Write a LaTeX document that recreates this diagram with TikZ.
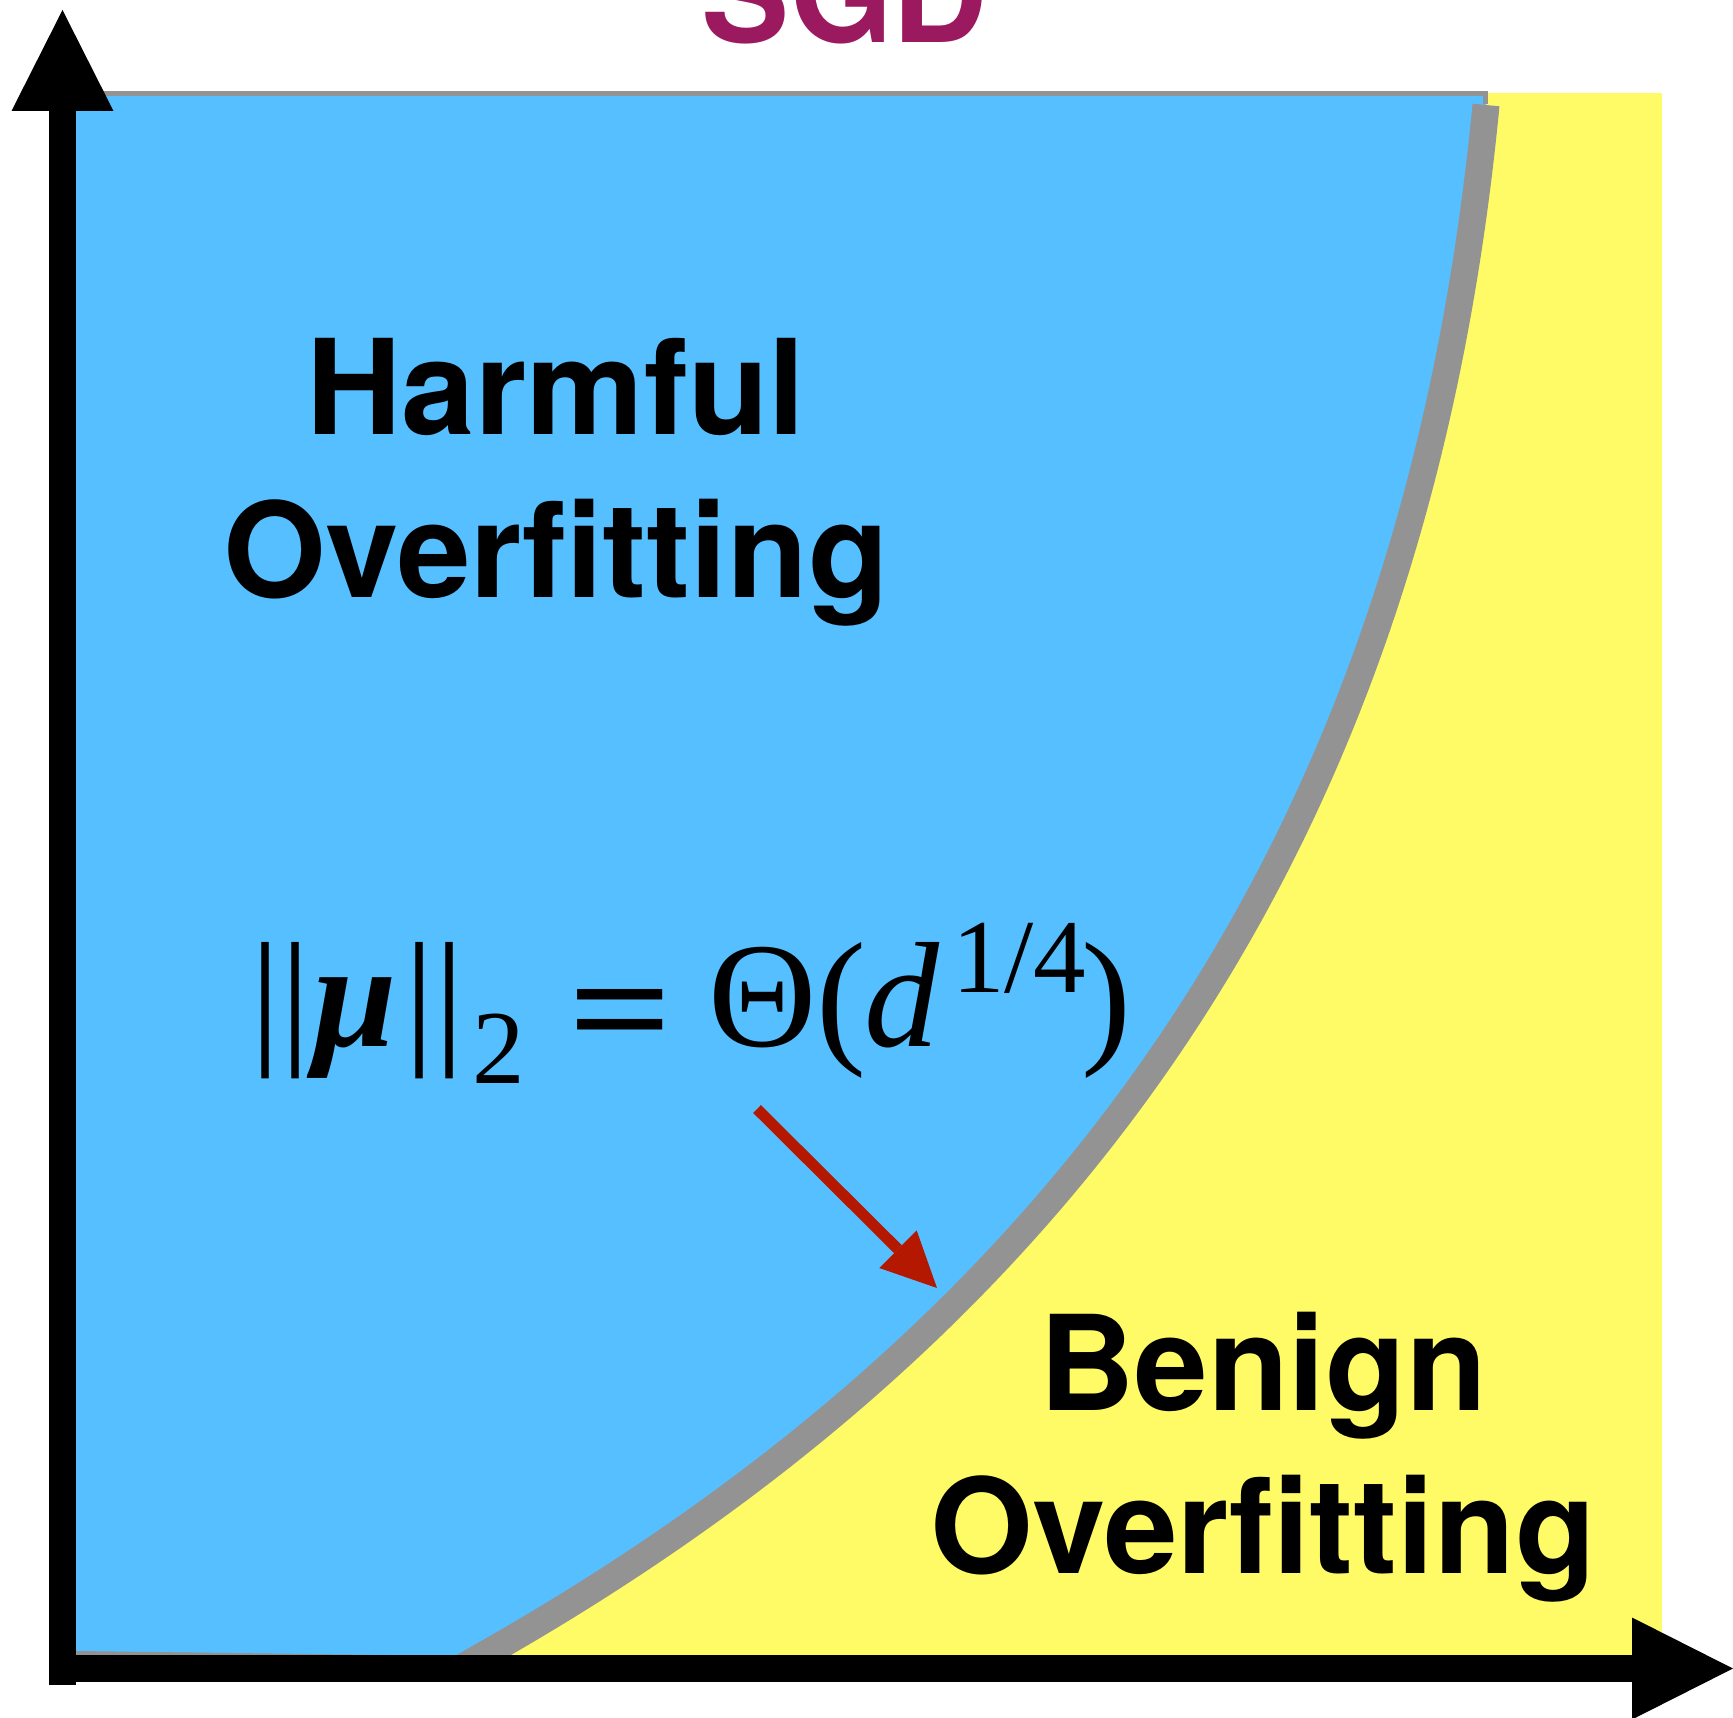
\documentclass[tikz,border=0pt]{standalone}
\usepackage{fontspec}
\usepackage{graphicx}
\newfontfamily\hv{TeX Gyre Heros}
\newfontfamily\tms{Liberation Serif}
\usetikzlibrary{arrows.meta}
\definecolor{skyblue}{RGB}{86,191,255}
\definecolor{lemon}{RGB}{255,251,102}
\definecolor{bandgray}{RGB}{147,147,147}
\definecolor{sgdpurple}{RGB}{155,25,95}
\definecolor{arrowred}{RGB}{180,24,0}
\newcommand{\placeglyph}[2]{\rlap{\hspace*{#1}#2}}
\newcommand{\smallsz}{\fontsize{105}{120}\selectfont}
\begin{document}
\begin{tikzpicture}[x=1pt,y=-1pt,
  axisline/.style={line width=27pt, -{Triangle[length=101pt,width=102pt,line width=0pt]}},
  redarrow/.style={arrowred, line width=11pt, -{Triangle[length=55pt,width=53pt,line width=0pt]}},
  regionlabel/.style={font=\hv\bfseries\fontsize{132}{163}\selectfont, align=center, inner sep=0pt},
  boundary/.style={bandgray, line width=27pt}
]
\useasboundingbox (0,0) rectangle (1733,1718);
\fill[white] (0,0) rectangle (1733,1718);
% regions
\fill[lemon] (76,93) rectangle (1662,1656);
\coordinate (cb) at (482,1656);
\coordinate (cx) at (447,1676);
\coordinate (ct) at (1486,105);
\fill[skyblue] (70,96) -- (1486,96) -- (ct) .. controls (1420,791) and (1115,1298) .. (cb) -- (70,1656) -- cycle;
\begin{scope}
\clip (0,0) rectangle (1733,1656);
\draw[boundary] (cx) -- (cb) .. controls (1115,1298) and (1420,791) .. (ct);
\end{scope}
\fill[bandgray] (76,91) rectangle (1488,96);
\fill[bandgray] (1483,91) rectangle (1488,104);
\fill[bandgray] (76,1651) -- (470,1656) -- (76,1656) -- cycle;
% axes
\coordinate (yb) at (62.5,1685);
\coordinate (yt) at (62.5,10);
\coordinate (xl) at (49,1668.5);
\coordinate (xr) at (1733,1668.5);
\draw[axisline] (yb) -- (yt);
\draw[axisline] (xl) -- (xr);
% texts
\node[font=\hv\bfseries\fontsize{132}{160}\selectfont, text=sgdpurple, anchor=base, inner sep=0pt] (title) at (845,43) {SGD};
\node[regionlabel, anchor=north] (harm) at (556,338) {Harmful\\Overfitting};
\node[regionlabel, anchor=north] (benign) at (1263,1312) {Benign\\Overfitting};
\node[font=\tms\fontsize{150}{180}\selectfont, anchor=base west, inner sep=0pt] (law) at (250,1046) {%
\placeglyph{0pt}{||}%
\placeglyph{63pt}{\bfseries\itshape μ}%
\placeglyph{154pt}{||}%
\placeglyph{222pt}{\raisebox{-37pt}{\smallsz 2}}%
\placeglyph{318pt}{\raisebox{-13pt}{\scalebox{1.22}[1]{\bfseries =}}}%
\placeglyph{458pt}{Θ}%
\placeglyph{566pt}{(}%
\placeglyph{614pt}{\itshape d}%
\placeglyph{702pt}{\raisebox{54pt}{\smallsz 1/4}}%
\placeglyph{831pt}{)}%
\hspace*{880pt}};
% red arrow
\coordinate (rs) at (757,1109);
\coordinate (re) at (937,1288);
\draw[redarrow] (rs) -- (re);
\end{tikzpicture}
\end{document}
